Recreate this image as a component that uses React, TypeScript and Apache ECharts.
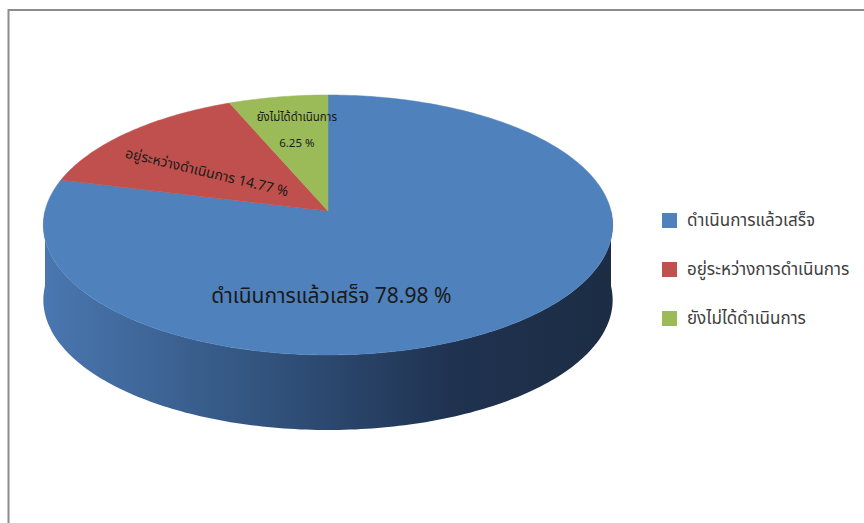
import React, { useEffect, useRef } from "react";
import * as echarts from "echarts";

// ---- data ----
const categories = ["ดำเนินการแล้วเสร็จ", "อยู่ระหว่างการดำเนินการ", "ยังไม่ได้ดำเนินการ"];
const labelNames = ["ดำเนินการแล้วเสร็จ", "อยู่ระหว่างดำเนินการ", "ยังไม่ได้ดำเนินการ"];
const values = [78.98, 14.77, 6.25];

// ---- styles / layout ----
const colors = ["#4f81bd", "#c0504d", "#9bbb59"];
const CX = 328;
const CY = 211;
const RX = 283;
const RY = 128.5;
const PERSP = 0.1076;
const DEPTH = 75;
const THAI_FONT = "Tahoma, 'Noto Sans Thai', 'Noto Sans', 'DejaVu Sans', sans-serif";
// label placement on the disc: angle (deg), radius fraction, rotation (deg, negative = clockwise), font size
const labelLayout = [
  { angle: -89, r: 0.62, rot: 0, size: 21, twoLine: false },
  { angle: 145, r: 0.54, rot: -13.5, size: 14, twoLine: false },
  { angle: 100, r: 0.68, rot: 0, size: 11.5, twoLine: true },
];

function project(thetaDeg: number, r: number, dy: number) {
  const t = (thetaDeg * Math.PI) / 180;
  const u = r * Math.cos(t);
  const v = -r * Math.sin(t);
  const d = 1 - PERSP * v;
  return [CX + (RX * u) / d, CY + (RY * v) / d + dy];
}

function arcPoints(a0: number, a1: number, dy: number) {
  const pts: number[][] = [];
  const n = Math.max(2, Math.ceil(Math.abs(a0 - a1)));
  for (let i = 0; i <= n; i++) {
    const a = a0 + ((a1 - a0) * i) / n;
    pts.push(project(a, 1, dy));
  }
  return pts;
}

export default function App() {
  const ref = useRef<HTMLDivElement>(null);
  useEffect(() => {
    if (!ref.current) return;
    const chart = echarts.init(ref.current, null, { renderer: "svg" });
    const total = values.reduce((a, b) => a + b, 0);
    const starts: number[] = [];
    let acc = 90;
    values.forEach((v) => {
      starts.push(acc);
      acc -= (v / total) * 360;
    });

    const renderItem = (params: any, api: any) => {
      const i = params.dataIndex;
      const val = api.value(0);
      const a0 = starts[i];
      const a1 = a0 - (val / total) * 360;
      const children: any[] = [];

      // side wall (front half only)
      const lo = Math.max(a1, -180);
      const hi = Math.min(a0, 0);
      if (hi > lo) {
        const top = arcPoints(hi, lo, 0);
        const bottom = arcPoints(lo, hi, DEPTH);
        children.push({
          type: "polygon",
          z2: 1,
          shape: { points: top.concat(bottom) },
          style: {
            fill: new echarts.graphic.LinearGradient(0, 0, 1, 0, [
              { offset: 0, color: "#4a77b0" },
              { offset: 0.4, color: "#31527c" },
              { offset: 0.72, color: "#1f3250" },
              { offset: 1, color: "#1c2c44" },
            ]),
            stroke: null,
          },
        });
      }

      // top face
      const facePts = [[CX, CY]].concat(arcPoints(a0, a1, 0));
      children.push({
        type: "polygon",
        z2: 10,
        shape: { points: facePts },
        style: { fill: colors[i], stroke: colors[i], lineWidth: 0.5 },
      });

      // label
      const L = labelLayout[i];
      const pos = project(L.angle, L.r, 0);
      const pct = val.toFixed(2) + " %";
      if (L.twoLine) {
        children.push({
          type: "text",
          z2: 20,
          x: pos[0],
          y: pos[1] - 13,
          style: { text: labelNames[i], fill: "#1a1a1a", fontSize: L.size, fontFamily: THAI_FONT, align: "center", verticalAlign: "middle" },
        });
        children.push({
          type: "text",
          z2: 20,
          x: pos[0],
          y: pos[1] + 13,
          style: { text: pct, fill: "#1a1a1a", fontSize: L.size, fontFamily: THAI_FONT, align: "center", verticalAlign: "middle" },
        });
      } else {
        children.push({
          type: "text",
          z2: 20,
          x: pos[0],
          y: pos[1],
          rotation: (L.rot * Math.PI) / 180,
          style: {
            text: labelNames[i] + " " + pct,
            fill: "#1a1a1a",
            fontSize: L.size,
            fontFamily: THAI_FONT,
            align: "center",
            verticalAlign: "middle",
          },
        });
      }

      // legend entry
      const ly = 221 + i * 49;
      children.push({
        type: "rect",
        z2: 20,
        shape: { x: 662, y: ly - 8, width: 15, height: 15 },
        style: { fill: colors[i] },
      });
      children.push({
        type: "text",
        z2: 20,
        x: 687,
        y: ly,
        style: { text: categories[i], fill: "#404040", fontSize: 17, fontFamily: THAI_FONT, align: "left", verticalAlign: "middle" },
      });

      return { type: "group", children };
    };

    chart.setOption({
      animation: false,
      backgroundColor: "#ffffff",
      graphic: [
        {
          type: "rect",
          shape: { x: 8.5, y: 10, width: 900, height: 600 },
          style: { fill: "none", stroke: "#8c8c8c", lineWidth: 2 },
          z: -1,
        },
      ],
      series: [
        {
          type: "custom",
          coordinateSystem: "none",
          renderItem,
          data: values.map((v, i) => ({ name: categories[i], value: [v] })),
        },
      ],
    });
    return () => chart.dispose();
  }, []);
  return <div ref={ref} style={{ position: "absolute", left: 0, top: 0, width: 864, height: 523 }} />;
}
